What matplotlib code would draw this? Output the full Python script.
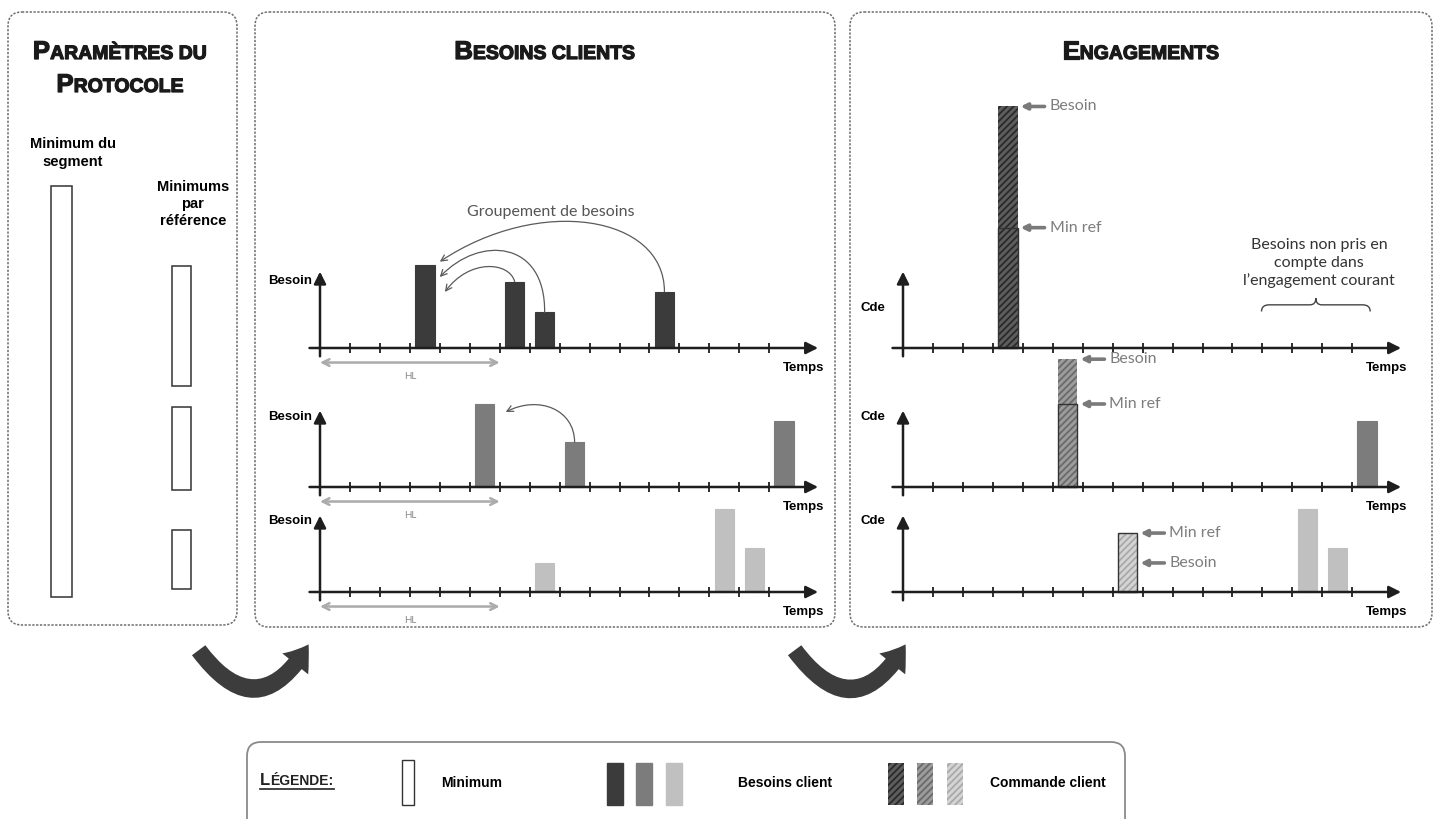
import numpy as np
import matplotlib
matplotlib.use("Agg")
import matplotlib.pyplot as plt
import matplotlib.patheffects as pe
from matplotlib.patches import FancyBboxPatch, FancyArrowPatch, Rectangle, PathPatch
from matplotlib.path import Path

plt.rcParams['hatch.linewidth'] = 1.3

W, H = 1439, 819
SLOT = 29.95   # px per time bucket
UNIT = 8.3     # px per quantity unit

# ---- data ----
n_ticks = 16
horizon_hl = 6
slots = [[3, 6, 7, 11], [5, 8, 15], [7, 13, 14]]
besoins = [[10, 8, 4.3, 6.8], [10, 5.4, 8], [3.5, 10, 5.3]]
min_ref = [14.5, 10, 7.1]
min_segment = 49.5
cde_slot = [3, 5, 7]
grouped = [[0, 1, 2, 3], [0, 1], [0]]

solid = ['#3b3b3b', '#7c7c7c', '#c0c0c0']
hatch_face = ['#5e5e5e', '#9c9c9c', '#d4d4d4']
hatch_line = ['#2a2a2a', '#6a6a6a', '#a9a9a9']

BOLD = dict(family='Liberation Sans', fontweight='bold')
SOFT = dict(family='Lato')
HEAVY = [pe.withStroke(linewidth=0.9, foreground='#1a1a1a')]

fig = plt.figure(figsize=(W / 100, H / 100), dpi=100)
ax = fig.add_axes([0, 0, 1, 1])
ax.set_xlim(0, W)
ax.set_ylim(H, 0)
ax.axis('off')
rend = fig.canvas.get_renderer()


def small_caps(x, y, s, big, small, **kw):
    runs = []
    for ch in s:
        size = big if ch.isupper() else small
        if runs and runs[-1][1] == size:
            runs[-1][0] += ch.upper()
        else:
            runs.append([ch.upper(), size])
    arts, widths = [], []
    for txt, size in runs:
        t = ax.text(0, y, txt, fontsize=size, va='baseline', ha='left', **kw)
        arts.append(t)
        widths.append(t.get_window_extent(rend).width)
    cx = x - sum(widths) / 2
    for t, w in zip(arts, widths):
        t.set_x(cx)
        cx += w
    return x - sum(widths) / 2, x + sum(widths) / 2


def chart_axes(ox, oy):
    x0, x1, y0, y1 = -2.0, 18.0, -5.0, 32.0
    a = fig.add_axes([(ox + x0 * SLOT) / W, (H - oy + y0 * UNIT) / H,
                      (x1 - x0) * SLOT / W, (y1 - y0) * UNIT / H])
    a.set_xlim(x0, x1)
    a.set_ylim(y0, y1)
    a.axis('off')
    return a


AX_ARROW = dict(arrowstyle='-|>', lw=1.8, color='#1e1e1e', mutation_scale=18,
                shrinkA=0, shrinkB=0)


def frame(a, ylabel, label_x, label_y, hl):
    a.annotate('', xy=(16.63, 0), xytext=(-0.35, 0), arrowprops=AX_ARROW)
    a.annotate('', xy=(0, 9.2), xytext=(0, -1.0), arrowprops=AX_ARROW)
    a.vlines(np.arange(1, n_ticks), -0.65, 0.65, color='#1e1e1e', lw=1.3)
    a.text(16.85, -2.35, 'Temps', ha='right', va='center', fontsize=9.5, **BOLD)
    a.text(label_x, label_y, ylabel, ha='right', va='center', fontsize=9.5, **BOLD)
    if hl:
        a.annotate('', xy=(horizon_hl, -1.75), xytext=(0, -1.75),
                   arrowprops=dict(arrowstyle='<->', color='#ababab', lw=1.8,
                                   mutation_scale=12, shrinkA=0, shrinkB=0))
        a.text(horizon_hl / 2, -3.45, 'HL', ha='center', va='center', fontsize=7,
               color='#888888', **SOFT)


def curve(a, start, c1, c2, end):
    p = Path([start, c1, c2, end], [Path.MOVETO, Path.CURVE4, Path.CURVE4, Path.CURVE4])
    a.add_patch(FancyArrowPatch(path=p, arrowstyle='->', mutation_scale=11, lw=0.9,
                                color='#5a5a5a'))


# ---- panels ----
for x0, y0, x1, y1 in [(8, 12, 237, 625), (255, 12, 835, 627), (850, 12, 1432, 627)]:
    ax.add_patch(FancyBboxPatch((x0, y0), x1 - x0, y1 - y0,
                                boxstyle='round,pad=0,rounding_size=14', fill=False,
                                ec='#6e6e6e', lw=1.1, ls=(0, (1.5, 1))))

for cx, cy, title in [(120, 59, 'Paramètres du'), (120, 92, 'Protocole'),
                      (545, 59, 'Besoins clients'), (1141, 59, 'Engagements')]:
    small_caps(cx, cy, title, 18.5, 14, color='#1a1a1a', path_effects=HEAVY, **BOLD)

# ---- left panel: minimums ----
ax.text(73, 153, 'Minimum du\nsegment', ha='center', va='center', fontsize=10.5,
        linespacing=1.3, **BOLD)
ax.text(193, 204, 'Minimums\npar\nréférence', ha='center', va='center', fontsize=10.5,
        linespacing=1.25, **BOLD)
axl = fig.add_axes([8 / W, (H - 600) / H, 229 / W, 52 * UNIT / H])
axl.set_xlim(8, 237)
axl.set_ylim(0, 52)
axl.axis('off')
axl.bar([61.5], [min_segment], bottom=[3 / UNIT], width=21, fill=False,
        edgecolor='#333333', lw=1.1)
axl.bar([181.5] * 3, min_ref, bottom=[214 / UNIT, 110 / UNIT, 11 / UNIT], width=19,
        fill=False, edgecolor='#333333', lw=1.1)

# ---- middle panel: customer needs ----
mid_oy = [348, 487, 592]
mids = []
for i in range(3):
    a = chart_axes(320, mid_oy[i])
    frame(a, 'Besoin', -0.25, [8.1, 8.4, 8.6][i], True)
    a.bar(np.array(slots[i]) + 0.5, besoins[i], width=0.65, color=solid[i],
          edgecolor=solid[i], lw=0.8)
    mids.append(a)

s1 = [(slots[0][j] + 0.5, besoins[0][j]) for j in range(4)]
curve(mids[0], s1[3], (11.5, 16.0), (7.33, 18.4), (4.0, 10.4))
curve(mids[0], s1[2], (7.53, 13.0), (5.33, 13.6), (4.0, 8.55))
curve(mids[0], s1[1], (6.33, 10.36), (5.0, 10.84), (4.17, 6.75))
curve(mids[1], (slots[1][1] + 0.5, besoins[1][1]), (8.5, 9.28), (7.33, 11.1), (6.2, 9.04))
ax.text(551, 212, 'Groupement de besoins', ha='center', va='center', fontsize=11.5,
        color='#555555', **SOFT)

# ---- right panel: commitments ----
for i in range(3):
    a = chart_axes(903, mid_oy[i])
    frame(a, 'Cde', -0.6, [4.8, 8.4, 8.6][i], False)
    need = sum(besoins[i][j] for j in grouped[i])
    cde = max(need, min_ref[i])
    x = cde_slot[i] + 0.5
    a.bar([x], [cde], width=0.65, color=hatch_face[i], edgecolor=hatch_line[i],
          hatch='/////', lw=0)
    a.bar([x], [min_ref[i]], width=0.65, fill=False, edgecolor='#333333', lw=1)
    rest = [j for j in range(len(slots[i])) if j not in grouped[i]]
    a.bar(np.array(slots[i])[rest] + 0.5, np.array(besoins[i])[rest], width=0.65,
          color=solid[i], edgecolor=solid[i], lw=0.8)
    for lab, lev in (('Besoin', need), ('Min ref', min_ref[i])):
        xy = (x + 0.325 + 0.1, lev)
        a.annotate('', xy=xy, xytext=(24, 0), textcoords='offset pixels',
                   arrowprops=dict(arrowstyle='-|>', lw=2.6, color='#7a7a7a',
                                   mutation_scale=9, shrinkA=0, shrinkB=0))
        a.annotate(lab, xy=xy, xytext=(29, 0), textcoords='offset pixels', va='center',
                   ha='left', fontsize=11.5, color='#7d7d7d', **SOFT)
    if i == 0:
        bx0, bx1, by, bt = 11.97, 15.6, 5.2, 6.0
        mx = (bx0 + bx1) / 2
        verts = [(bx0, by - 0.8), (bx0, by), (bx0 + 0.25, by), (mx - 0.2, by),
                 (mx, by), (mx, bt), (mx, by), (mx + 0.2, by), (bx1 - 0.25, by),
                 (bx1, by), (bx1, by - 0.8)]
        codes = [Path.MOVETO, Path.CURVE3, Path.CURVE3, Path.LINETO, Path.CURVE3,
                 Path.CURVE3, Path.CURVE3, Path.CURVE3, Path.LINETO, Path.CURVE3,
                 Path.CURVE3]
        a.add_patch(PathPatch(Path(verts, codes), fill=False, ec='#444444', lw=1))
        a.text(13.9, 10.2, 'Besoins non pris en\ncompte dans\nl’engagement courant',
               ha='center', va='center', fontsize=11.5, linespacing=1.3, color='#333333',
               **SOFT)

# ---- big transition arrows ----
for A, B in [((197, 648), (310, 642)), ((793, 648), (907, 642))]:
    ax.add_patch(FancyArrowPatch(A, B, connectionstyle='arc3,rad=0.77',
                                 arrowstyle='simple,head_length=17,head_width=24,tail_width=12',
                                 mutation_scale=1, color='#3c3c3c', lw=0))

# ---- legend ----
ax.add_patch(FancyBboxPatch((247, 742), 878, 100, boxstyle='round,pad=0,rounding_size=14',
                            fill=False, ec='#8a8a8a', lw=1.3))
l0, l1 = small_caps(297, 785, 'Légende:', 12, 10, color='#222222', **BOLD)
ax.plot([l0, l1], [789, 789], color='#222222', lw=1.2)
ax.add_patch(Rectangle((402, 760), 12, 45, fill=False, ec='#333333', lw=1))
ax.text(441, 783, 'Minimum', va='center', fontsize=10, **BOLD)
for k, xl in enumerate([607, 636, 666]):
    ax.add_patch(Rectangle((xl, 763), 16, 42, color=solid[k]))
ax.text(738, 783, 'Besoins client', va='center', fontsize=10, **BOLD)
for k, xl in enumerate([888, 917, 947]):
    ax.add_patch(Rectangle((xl, 763), 16, 42, fc=hatch_face[k], ec=hatch_line[k],
                           hatch='/////', lw=0))
ax.text(990, 783, 'Commande client', va='center', fontsize=10, **BOLD)

fig.savefig('out.png', dpi=100)
